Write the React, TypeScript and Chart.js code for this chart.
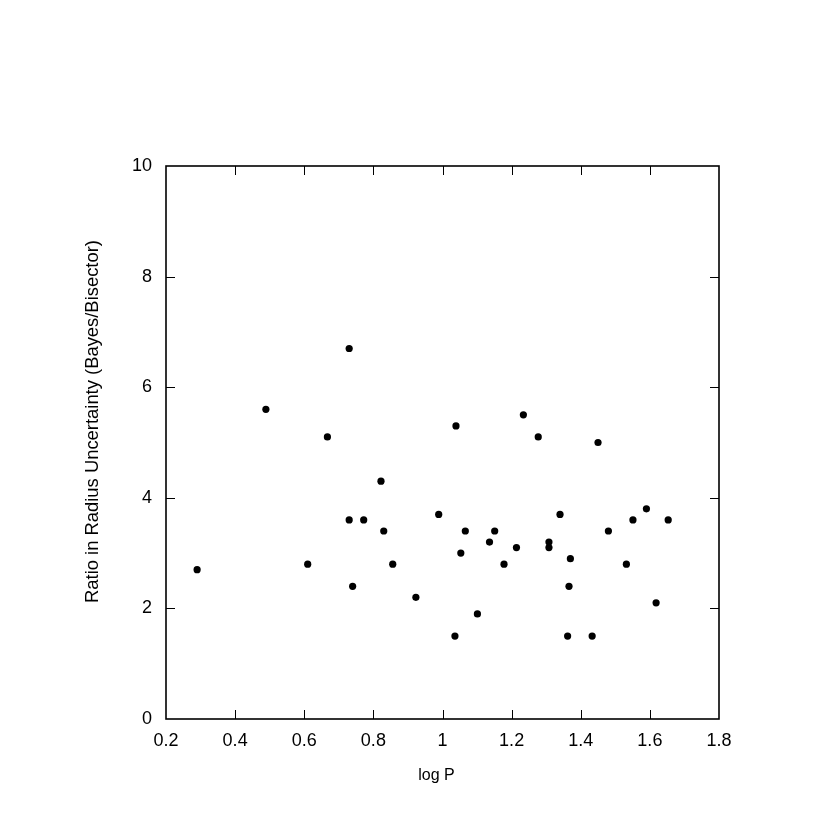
import React, { useEffect, useRef } from "react";
import { Chart, registerables } from "chart.js";

Chart.register(...registerables);

const logP: number[] = [
  0.29, 0.489, 0.73, 0.667, 0.822, 0.73, 0.772, 0.989, 0.83, 0.61, 0.856, 0.74, 0.923,
  1.039, 1.234, 1.277, 1.45, 1.34, 1.59, 1.551, 1.653, 1.066, 1.151, 1.48, 1.136, 1.308,
  1.308, 1.214, 1.053, 1.37, 1.178, 1.532, 1.366, 1.618, 1.101, 1.036, 1.362, 1.433,
];
const ratio: number[] = [
  2.7, 5.6, 6.7, 5.1, 4.3, 3.6, 3.6, 3.7, 3.4, 2.8, 2.8, 2.4, 2.2,
  5.3, 5.5, 5.1, 5.0, 3.7, 3.8, 3.6, 3.6, 3.4, 3.4, 3.4, 3.2, 3.2,
  3.1, 3.1, 3.0, 2.9, 2.8, 2.8, 2.4, 2.1, 1.9, 1.5, 1.5, 1.5,
];
const xTitle = "log P";
const yTitle = "Ratio in Radius Uncertainty (Bayes/Bisector)";

const FONT = "'Liberation Sans', Arial, Helvetica, sans-serif";

const framePlugin = {
  id: "frameTicks",
  afterDraw(chart: any) {
    const { ctx, chartArea, scales } = chart;
    const { left, right, top, bottom } = chartArea;
    const tl = 9;
    ctx.save();
    ctx.strokeStyle = "#000";
    ctx.lineWidth = 1;
    ctx.beginPath();
    scales.x.ticks.forEach((t: any) => {
      const px = Math.round(scales.x.getPixelForValue(t.value)) + 0.5;
      if (Math.abs(px - left) < 2 || Math.abs(px - right) < 2) return;
      ctx.moveTo(px, bottom);
      ctx.lineTo(px, bottom - tl);
      ctx.moveTo(px, top);
      ctx.lineTo(px, top + tl);
    });
    scales.y.ticks.forEach((t: any) => {
      const py = Math.round(scales.y.getPixelForValue(t.value)) + 0.5;
      if (Math.abs(py - top) < 2 || Math.abs(py - bottom) < 2) return;
      ctx.moveTo(left, py);
      ctx.lineTo(left + tl, py);
      ctx.moveTo(right, py);
      ctx.lineTo(right - tl, py);
    });
    ctx.stroke();
    ctx.lineWidth = 1.6;
    ctx.strokeRect(left, top, right - left, bottom - top);

    ctx.fillStyle = "#000";
    ctx.textAlign = "center";
    ctx.textBaseline = "alphabetic";
    ctx.font = `16px ${FONT}`;
    ctx.fillText(xTitle, 436.5, 780);
    ctx.font = `18.4px ${FONT}`;
    ctx.translate(98, 421.5);
    ctx.rotate(-Math.PI / 2);
    ctx.fillText(yTitle, 0, 0);
    ctx.restore();
  },
};

const fmt = (v: any) => String(Math.round(Number(v) * 10) / 10);

export default function App() {
  const ref = useRef<HTMLCanvasElement | null>(null);
  useEffect(() => {
    document.body.style.margin = "0";
    if (!ref.current) return;
    const chart = new Chart(ref.current, {
      type: "scatter",
      data: {
        datasets: [
          {
            data: logP.map((x, i) => ({ x, y: ratio[i] })),
            backgroundColor: "#000",
            borderWidth: 0,
            pointRadius: 3.6,
            pointHoverRadius: 3.6,
          },
        ],
      },
      options: {
        responsive: false,
        animation: false,
        events: [],
        layout: { padding: { top: 166, right: 111, left: 0, bottom: 0 } },
        plugins: { legend: { display: false }, tooltip: { enabled: false } },
        scales: {
          x: {
            type: "linear",
            min: 0.2,
            max: 1.8,
            grid: { display: false, drawTicks: false },
            border: { display: false },
            ticks: {
              stepSize: 0.2,
              padding: 11,
              color: "#000",
              font: { family: FONT, size: 18 },
              maxRotation: 0,
              callback: fmt,
            },
            afterFit: (s: any) => {
              s.height = 111;
            },
          },
          y: {
            type: "linear",
            min: 0,
            max: 10,
            grid: { display: false, drawTicks: false },
            border: { display: false },
            ticks: {
              stepSize: 2,
              padding: 14,
              color: "#000",
              font: { family: FONT, size: 18 },
              callback: fmt,
            },
            afterFit: (s: any) => {
              s.width = 166;
            },
          },
        },
      },
      plugins: [framePlugin],
    });
    return () => chart.destroy();
  }, []);
  return (
    <div style={{ position: "absolute", left: 0, top: 0, width: 830, height: 830, background: "#fff" }}>
      <canvas ref={ref} width={830} height={830} style={{ width: 830, height: 830 }} />
    </div>
  );
}
